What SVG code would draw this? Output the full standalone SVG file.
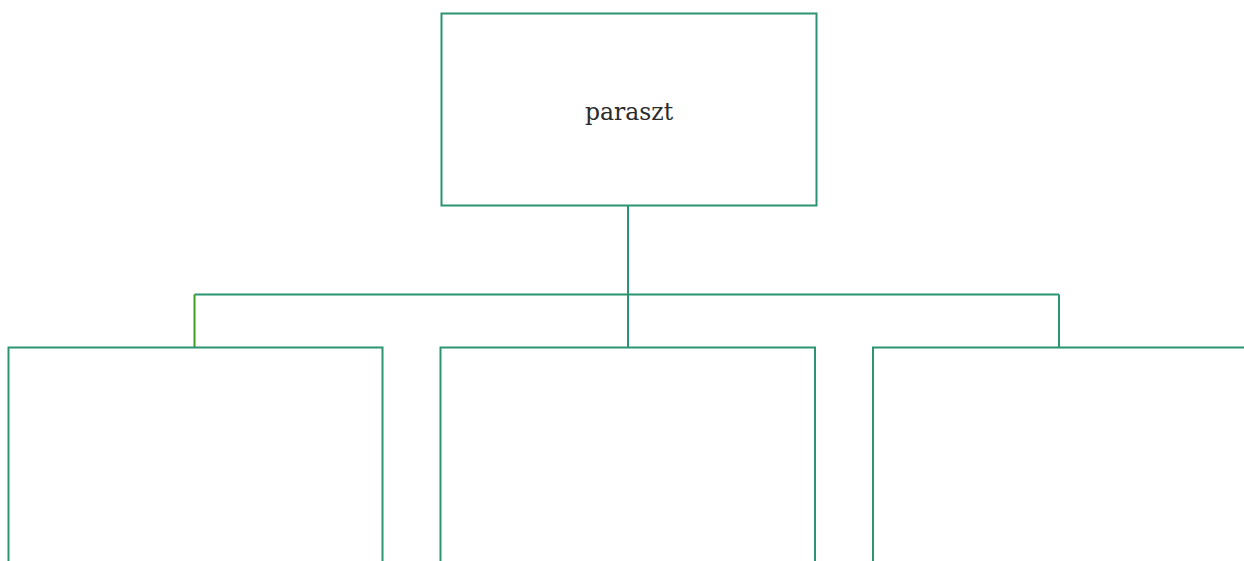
<svg xmlns="http://www.w3.org/2000/svg" width="1244" height="561" viewBox="0 0 1244 561">
<style>
.box{fill:#fff;stroke:#2b9473;stroke-width:2}
.ln{fill:none;stroke:#2b9473;stroke-width:2}
.lbl{font-family:"DejaVu Serif","Liberation Serif",serif;font-size:23.5px;fill:#2b2b2b;text-anchor:middle}
</style>
<rect width="1244" height="561" fill="#fff"/>
<g id="connectors">
<line class="ln" x1="628" y1="205" x2="628" y2="347.5"/>
<line class="ln" x1="194.5" y1="294.5" x2="1059" y2="294.5"/>
<line class="ln" x1="194.5" y1="294.5" x2="194.5" y2="347.5" style="stroke:#3c9c24"/>
<line class="ln" x1="1059" y1="294.5" x2="1059" y2="347.5"/>
</g>
<g id="node-root">
<rect class="box" x="441.5" y="13.5" width="375" height="192"/>
<text class="lbl" x="629" y="120">paraszt</text>
</g>
<g id="node-child1">
<rect class="box" x="8.5" y="347.5" width="374" height="230"/>
</g>
<g id="node-child2">
<rect class="box" x="440.5" y="347.5" width="374.5" height="230"/>
</g>
<g id="node-child3">
<rect class="box" x="873" y="347.5" width="390" height="230"/>
</g>
</svg>
